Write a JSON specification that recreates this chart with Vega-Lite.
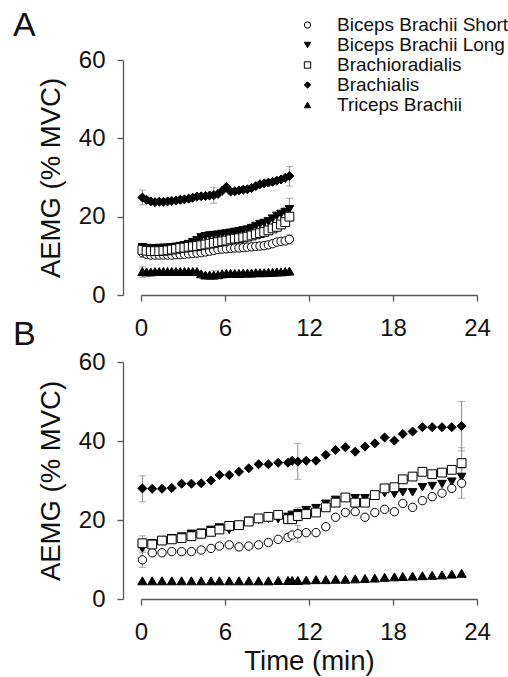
{
"$schema":"https://vega.github.io/schema/vega-lite/v6.json",
"background":"white",
"autosize":{"type":"pad"},
"padding":{"left":13,"top":9,"right":5,"bottom":2},
"config":{"font":"Liberation Sans","view":{"stroke":null},
"axis":{"grid":false,"domainColor":"#555","tickColor":"#555","domainWidth":1.3,"tickWidth":1.3,"tickSize":6,"labelFlush":false,"labelFont":"Liberation Sans","labelFontSize":24,"labelColor":"#111","titleFont":"Liberation Sans","titleFontSize":27.5,"titleFontWeight":"normal","titleColor":"#111"},
"title":{"font":"Liberation Sans","fontSize":34,"fontWeight":"normal","color":"#111","anchor":"start","frame":"group","baseline":"alphabetic","dx":-128}},
"resolve":{"legend":{"shape":"independent","fill":"independent","stroke":"independent"}},
"datasets":{
"a":[
{"muscle":"Biceps Brachii Long","t":0.1,"v":12.2},{"muscle":"Biceps Brachii Long","t":0.4,"v":12.0},{"muscle":"Biceps Brachii Long","t":0.7,"v":11.9},{"muscle":"Biceps Brachii Long","t":1.0,"v":11.9},{"muscle":"Biceps Brachii Long","t":1.3,"v":12.0},{"muscle":"Biceps Brachii Long","t":1.6,"v":12.0},{"muscle":"Biceps Brachii Long","t":1.9,"v":12.1},{"muscle":"Biceps Brachii Long","t":2.2,"v":12.2},{"muscle":"Biceps Brachii Long","t":2.5,"v":12.3},{"muscle":"Biceps Brachii Long","t":2.8,"v":12.5},{"muscle":"Biceps Brachii Long","t":3.1,"v":12.7},{"muscle":"Biceps Brachii Long","t":3.4,"v":13.0},{"muscle":"Biceps Brachii Long","t":3.7,"v":13.5},{"muscle":"Biceps Brachii Long","t":4.0,"v":14.0},{"muscle":"Biceps Brachii Long","t":4.3,"v":14.7},{"muscle":"Biceps Brachii Long","t":4.6,"v":15.0},{"muscle":"Biceps Brachii Long","t":4.9,"v":15.2},{"muscle":"Biceps Brachii Long","t":5.2,"v":15.3},{"muscle":"Biceps Brachii Long","t":5.5,"v":15.4},{"muscle":"Biceps Brachii Long","t":5.8,"v":15.6},{"muscle":"Biceps Brachii Long","t":6.1,"v":15.7},{"muscle":"Biceps Brachii Long","t":6.4,"v":15.9},{"muscle":"Biceps Brachii Long","t":6.7,"v":16.1},{"muscle":"Biceps Brachii Long","t":7.0,"v":16.3},{"muscle":"Biceps Brachii Long","t":7.3,"v":16.5},{"muscle":"Biceps Brachii Long","t":7.6,"v":16.7},{"muscle":"Biceps Brachii Long","t":7.9,"v":17.1},{"muscle":"Biceps Brachii Long","t":8.2,"v":17.6},{"muscle":"Biceps Brachii Long","t":8.5,"v":18.1},{"muscle":"Biceps Brachii Long","t":8.8,"v":18.4},{"muscle":"Biceps Brachii Long","t":9.1,"v":18.8},{"muscle":"Biceps Brachii Long","t":9.4,"v":19.5},{"muscle":"Biceps Brachii Long","t":9.7,"v":20.2},{"muscle":"Biceps Brachii Long","t":10.0,"v":20.7},{"muscle":"Biceps Brachii Long","t":10.3,"v":21.2},{"muscle":"Biceps Brachii Long","t":10.6,"v":21.9},
{"muscle":"Biceps Brachii Short","t":0.1,"v":10.8},{"muscle":"Biceps Brachii Short","t":0.4,"v":10.4},{"muscle":"Biceps Brachii Short","t":0.7,"v":10.2},{"muscle":"Biceps Brachii Short","t":1.0,"v":10.2},{"muscle":"Biceps Brachii Short","t":1.3,"v":10.2},{"muscle":"Biceps Brachii Short","t":1.6,"v":10.2},{"muscle":"Biceps Brachii Short","t":1.9,"v":10.2},{"muscle":"Biceps Brachii Short","t":2.2,"v":10.2},{"muscle":"Biceps Brachii Short","t":2.5,"v":10.3},{"muscle":"Biceps Brachii Short","t":2.8,"v":10.3},{"muscle":"Biceps Brachii Short","t":3.1,"v":10.4},{"muscle":"Biceps Brachii Short","t":3.4,"v":10.5},{"muscle":"Biceps Brachii Short","t":3.7,"v":10.6},{"muscle":"Biceps Brachii Short","t":4.0,"v":10.7},{"muscle":"Biceps Brachii Short","t":4.3,"v":10.8},{"muscle":"Biceps Brachii Short","t":4.6,"v":11.0},{"muscle":"Biceps Brachii Short","t":4.9,"v":11.2},{"muscle":"Biceps Brachii Short","t":5.2,"v":11.4},{"muscle":"Biceps Brachii Short","t":5.5,"v":11.6},{"muscle":"Biceps Brachii Short","t":5.8,"v":11.7},{"muscle":"Biceps Brachii Short","t":6.1,"v":11.8},{"muscle":"Biceps Brachii Short","t":6.4,"v":11.9},{"muscle":"Biceps Brachii Short","t":6.7,"v":12.0},{"muscle":"Biceps Brachii Short","t":7.0,"v":12.0},{"muscle":"Biceps Brachii Short","t":7.3,"v":12.1},{"muscle":"Biceps Brachii Short","t":7.6,"v":12.2},{"muscle":"Biceps Brachii Short","t":7.9,"v":12.3},{"muscle":"Biceps Brachii Short","t":8.2,"v":12.4},{"muscle":"Biceps Brachii Short","t":8.5,"v":12.5},{"muscle":"Biceps Brachii Short","t":8.8,"v":12.6},{"muscle":"Biceps Brachii Short","t":9.1,"v":12.8},{"muscle":"Biceps Brachii Short","t":9.4,"v":13.1},{"muscle":"Biceps Brachii Short","t":9.7,"v":13.5},{"muscle":"Biceps Brachii Short","t":10.0,"v":13.7},{"muscle":"Biceps Brachii Short","t":10.3,"v":13.8},{"muscle":"Biceps Brachii Short","t":10.6,"v":14.2},
{"muscle":"Brachioradialis","t":0.1,"v":11.5},{"muscle":"Brachioradialis","t":0.4,"v":11.3},{"muscle":"Brachioradialis","t":0.7,"v":11.2},{"muscle":"Brachioradialis","t":1.0,"v":11.2},{"muscle":"Brachioradialis","t":1.3,"v":11.2},{"muscle":"Brachioradialis","t":1.6,"v":11.3},{"muscle":"Brachioradialis","t":1.9,"v":11.4},{"muscle":"Brachioradialis","t":2.2,"v":11.6},{"muscle":"Brachioradialis","t":2.5,"v":11.8},{"muscle":"Brachioradialis","t":2.8,"v":12.0},{"muscle":"Brachioradialis","t":3.1,"v":12.1},{"muscle":"Brachioradialis","t":3.4,"v":12.3},{"muscle":"Brachioradialis","t":3.7,"v":12.4},{"muscle":"Brachioradialis","t":4.0,"v":12.5},{"muscle":"Brachioradialis","t":4.3,"v":12.7},{"muscle":"Brachioradialis","t":4.6,"v":12.9},{"muscle":"Brachioradialis","t":4.9,"v":13.1},{"muscle":"Brachioradialis","t":5.2,"v":13.3},{"muscle":"Brachioradialis","t":5.5,"v":13.5},{"muscle":"Brachioradialis","t":5.8,"v":13.7},{"muscle":"Brachioradialis","t":6.1,"v":13.9},{"muscle":"Brachioradialis","t":6.4,"v":14.2},{"muscle":"Brachioradialis","t":6.7,"v":14.4},{"muscle":"Brachioradialis","t":7.0,"v":14.5},{"muscle":"Brachioradialis","t":7.3,"v":14.7},{"muscle":"Brachioradialis","t":7.6,"v":14.9},{"muscle":"Brachioradialis","t":7.9,"v":15.2},{"muscle":"Brachioradialis","t":8.2,"v":15.5},{"muscle":"Brachioradialis","t":8.5,"v":15.8},{"muscle":"Brachioradialis","t":8.8,"v":16.1},{"muscle":"Brachioradialis","t":9.1,"v":16.5},{"muscle":"Brachioradialis","t":9.4,"v":17.0},{"muscle":"Brachioradialis","t":9.7,"v":17.4},{"muscle":"Brachioradialis","t":10.0,"v":18.0},{"muscle":"Brachioradialis","t":10.3,"v":18.6},{"muscle":"Brachioradialis","t":10.6,"v":20.0},
{"muscle":"Brachialis","t":0.1,"v":24.9},{"muscle":"Brachialis","t":0.4,"v":24.3},{"muscle":"Brachialis","t":0.7,"v":23.9},{"muscle":"Brachialis","t":1.0,"v":23.7},{"muscle":"Brachialis","t":1.3,"v":23.8},{"muscle":"Brachialis","t":1.6,"v":23.8},{"muscle":"Brachialis","t":1.9,"v":23.9},{"muscle":"Brachialis","t":2.2,"v":24.0},{"muscle":"Brachialis","t":2.5,"v":24.1},{"muscle":"Brachialis","t":2.8,"v":24.3},{"muscle":"Brachialis","t":3.1,"v":24.4},{"muscle":"Brachialis","t":3.4,"v":24.6},{"muscle":"Brachialis","t":3.7,"v":24.8},{"muscle":"Brachialis","t":4.0,"v":25.1},{"muscle":"Brachialis","t":4.3,"v":25.2},{"muscle":"Brachialis","t":4.6,"v":25.3},{"muscle":"Brachialis","t":4.9,"v":25.4},{"muscle":"Brachialis","t":5.2,"v":25.5},{"muscle":"Brachialis","t":5.5,"v":25.8},{"muscle":"Brachialis","t":5.8,"v":26.6},{"muscle":"Brachialis","t":6.1,"v":27.6},{"muscle":"Brachialis","t":6.4,"v":26.4},{"muscle":"Brachialis","t":6.7,"v":26.5},{"muscle":"Brachialis","t":7.0,"v":26.7},{"muscle":"Brachialis","t":7.3,"v":26.9},{"muscle":"Brachialis","t":7.6,"v":27.0},{"muscle":"Brachialis","t":7.9,"v":27.3},{"muscle":"Brachialis","t":8.2,"v":27.8},{"muscle":"Brachialis","t":8.5,"v":28.3},{"muscle":"Brachialis","t":8.8,"v":28.5},{"muscle":"Brachialis","t":9.1,"v":28.7},{"muscle":"Brachialis","t":9.4,"v":28.9},{"muscle":"Brachialis","t":9.7,"v":29.2},{"muscle":"Brachialis","t":10.0,"v":29.5},{"muscle":"Brachialis","t":10.3,"v":29.9},{"muscle":"Brachialis","t":10.6,"v":30.4},
{"muscle":"Triceps Brachii","t":0.1,"v":6.0},{"muscle":"Triceps Brachii","t":0.4,"v":5.9},{"muscle":"Triceps Brachii","t":0.7,"v":5.9},{"muscle":"Triceps Brachii","t":1.0,"v":6.0},{"muscle":"Triceps Brachii","t":1.3,"v":6.0},{"muscle":"Triceps Brachii","t":1.6,"v":6.0},{"muscle":"Triceps Brachii","t":1.9,"v":6.0},{"muscle":"Triceps Brachii","t":2.2,"v":6.0},{"muscle":"Triceps Brachii","t":2.5,"v":6.0},{"muscle":"Triceps Brachii","t":2.8,"v":6.0},{"muscle":"Triceps Brachii","t":3.1,"v":6.0},{"muscle":"Triceps Brachii","t":3.4,"v":6.0},{"muscle":"Triceps Brachii","t":3.7,"v":6.0},{"muscle":"Triceps Brachii","t":4.0,"v":6.0},{"muscle":"Triceps Brachii","t":4.3,"v":5.4},{"muscle":"Triceps Brachii","t":4.6,"v":5.1},{"muscle":"Triceps Brachii","t":4.9,"v":5.1},{"muscle":"Triceps Brachii","t":5.2,"v":5.1},{"muscle":"Triceps Brachii","t":5.5,"v":5.2},{"muscle":"Triceps Brachii","t":5.8,"v":5.4},{"muscle":"Triceps Brachii","t":6.1,"v":5.5},{"muscle":"Triceps Brachii","t":6.4,"v":5.5},{"muscle":"Triceps Brachii","t":6.7,"v":5.5},{"muscle":"Triceps Brachii","t":7.0,"v":5.5},{"muscle":"Triceps Brachii","t":7.3,"v":5.6},{"muscle":"Triceps Brachii","t":7.6,"v":5.6},{"muscle":"Triceps Brachii","t":7.9,"v":5.6},{"muscle":"Triceps Brachii","t":8.2,"v":5.7},{"muscle":"Triceps Brachii","t":8.5,"v":5.7},{"muscle":"Triceps Brachii","t":8.8,"v":5.7},{"muscle":"Triceps Brachii","t":9.1,"v":5.8},{"muscle":"Triceps Brachii","t":9.4,"v":5.8},{"muscle":"Triceps Brachii","t":9.7,"v":5.9},{"muscle":"Triceps Brachii","t":10.0,"v":5.9},{"muscle":"Triceps Brachii","t":10.3,"v":6.0},{"muscle":"Triceps Brachii","t":10.6,"v":6.1}
],
"aerr":[
{"muscle":"Brachialis","t":0.1,"lo":23.0,"hi":26.8},{"muscle":"Brachialis","t":5.2,"lo":23.4,"hi":27.4},{"muscle":"Brachialis","t":10.6,"lo":27.8,"hi":32.8},
{"muscle":"Biceps Brachii Long","t":10.6,"lo":19.1,"hi":24.7},{"muscle":"Biceps Brachii Long","t":5.2,"lo":12.0,"hi":15.5},
{"muscle":"Biceps Brachii Short","t":10.6,"lo":13.0,"hi":15.4},{"muscle":"Biceps Brachii Short","t":0.1,"lo":9.6,"hi":12.2},
{"muscle":"Triceps Brachii","t":0.1,"lo":4.5,"hi":7.2},{"muscle":"Triceps Brachii","t":5.2,"lo":4.0,"hi":6.2}
],
"b":[
{"muscle":"Biceps Brachii Long","t":0.1,"v":12.8},{"muscle":"Biceps Brachii Long","t":0.8,"v":14.1},{"muscle":"Biceps Brachii Long","t":1.5,"v":14.8},{"muscle":"Biceps Brachii Long","t":2.2,"v":15.4},{"muscle":"Biceps Brachii Long","t":2.9,"v":15.8},{"muscle":"Biceps Brachii Long","t":3.6,"v":16.5},{"muscle":"Biceps Brachii Long","t":4.3,"v":16.8},{"muscle":"Biceps Brachii Long","t":5.0,"v":17.5},{"muscle":"Biceps Brachii Long","t":5.6,"v":18.1},{"muscle":"Biceps Brachii Long","t":6.3,"v":17.5},{"muscle":"Biceps Brachii Long","t":7.0,"v":18.7},{"muscle":"Biceps Brachii Long","t":7.7,"v":19.8},{"muscle":"Biceps Brachii Long","t":8.4,"v":20.0},{"muscle":"Biceps Brachii Long","t":9.1,"v":20.2},{"muscle":"Biceps Brachii Long","t":9.8,"v":20.2},{"muscle":"Biceps Brachii Long","t":10.5,"v":20.8},{"muscle":"Biceps Brachii Long","t":10.8,"v":21.3},{"muscle":"Biceps Brachii Long","t":11.2,"v":21.7},{"muscle":"Biceps Brachii Long","t":11.8,"v":22.5},{"muscle":"Biceps Brachii Long","t":12.5,"v":23.0},{"muscle":"Biceps Brachii Long","t":13.2,"v":24.1},{"muscle":"Biceps Brachii Long","t":13.9,"v":25.1},{"muscle":"Biceps Brachii Long","t":14.6,"v":25.5},{"muscle":"Biceps Brachii Long","t":15.3,"v":25.5},{"muscle":"Biceps Brachii Long","t":16.0,"v":25.5},{"muscle":"Biceps Brachii Long","t":16.7,"v":26.3},{"muscle":"Biceps Brachii Long","t":17.4,"v":26.8},{"muscle":"Biceps Brachii Long","t":18.1,"v":26.6},{"muscle":"Biceps Brachii Long","t":18.7,"v":27.0},{"muscle":"Biceps Brachii Long","t":19.4,"v":27.0},{"muscle":"Biceps Brachii Long","t":20.1,"v":28.3},{"muscle":"Biceps Brachii Long","t":20.8,"v":28.6},{"muscle":"Biceps Brachii Long","t":21.5,"v":29.1},{"muscle":"Biceps Brachii Long","t":22.2,"v":29.7},{"muscle":"Biceps Brachii Long","t":22.9,"v":30.9},
{"muscle":"Biceps Brachii Short","t":0.1,"v":9.9},{"muscle":"Biceps Brachii Short","t":0.8,"v":11.7},{"muscle":"Biceps Brachii Short","t":1.5,"v":11.7},{"muscle":"Biceps Brachii Short","t":2.2,"v":12.0},{"muscle":"Biceps Brachii Short","t":2.9,"v":12.0},{"muscle":"Biceps Brachii Short","t":3.6,"v":12.0},{"muscle":"Biceps Brachii Short","t":4.3,"v":12.4},{"muscle":"Biceps Brachii Short","t":5.0,"v":12.8},{"muscle":"Biceps Brachii Short","t":5.6,"v":13.4},{"muscle":"Biceps Brachii Short","t":6.3,"v":13.7},{"muscle":"Biceps Brachii Short","t":7.0,"v":13.2},{"muscle":"Biceps Brachii Short","t":7.7,"v":13.4},{"muscle":"Biceps Brachii Short","t":8.4,"v":13.7},{"muscle":"Biceps Brachii Short","t":9.1,"v":14.3},{"muscle":"Biceps Brachii Short","t":9.8,"v":15.1},{"muscle":"Biceps Brachii Short","t":10.5,"v":15.6},{"muscle":"Biceps Brachii Short","t":10.8,"v":16.2},{"muscle":"Biceps Brachii Short","t":11.2,"v":16.5},{"muscle":"Biceps Brachii Short","t":11.8,"v":16.8},{"muscle":"Biceps Brachii Short","t":12.5,"v":16.8},{"muscle":"Biceps Brachii Short","t":13.2,"v":18.3},{"muscle":"Biceps Brachii Short","t":13.9,"v":20.7},{"muscle":"Biceps Brachii Short","t":14.6,"v":21.9},{"muscle":"Biceps Brachii Short","t":15.3,"v":22.1},{"muscle":"Biceps Brachii Short","t":16.0,"v":20.7},{"muscle":"Biceps Brachii Short","t":16.7,"v":21.9},{"muscle":"Biceps Brachii Short","t":17.4,"v":22.7},{"muscle":"Biceps Brachii Short","t":18.1,"v":22.1},{"muscle":"Biceps Brachii Short","t":18.7,"v":24.2},{"muscle":"Biceps Brachii Short","t":19.4,"v":23.2},{"muscle":"Biceps Brachii Short","t":20.1,"v":24.9},{"muscle":"Biceps Brachii Short","t":20.8,"v":25.9},{"muscle":"Biceps Brachii Short","t":21.5,"v":26.8},{"muscle":"Biceps Brachii Short","t":22.2,"v":28.0},{"muscle":"Biceps Brachii Short","t":22.9,"v":29.3},
{"muscle":"Brachioradialis","t":0.1,"v":14.1},{"muscle":"Brachioradialis","t":0.8,"v":13.8},{"muscle":"Brachioradialis","t":1.5,"v":14.8},{"muscle":"Brachioradialis","t":2.2,"v":15.1},{"muscle":"Brachioradialis","t":2.9,"v":15.4},{"muscle":"Brachioradialis","t":3.6,"v":15.9},{"muscle":"Brachioradialis","t":4.3,"v":16.5},{"muscle":"Brachioradialis","t":5.0,"v":17.0},{"muscle":"Brachioradialis","t":5.6,"v":17.6},{"muscle":"Brachioradialis","t":6.3,"v":18.5},{"muscle":"Brachioradialis","t":7.0,"v":18.7},{"muscle":"Brachioradialis","t":7.7,"v":19.6},{"muscle":"Brachioradialis","t":8.4,"v":20.4},{"muscle":"Brachioradialis","t":9.1,"v":20.8},{"muscle":"Brachioradialis","t":9.8,"v":21.3},{"muscle":"Brachioradialis","t":10.5,"v":20.2},{"muscle":"Brachioradialis","t":10.8,"v":20.2},{"muscle":"Brachioradialis","t":11.2,"v":21.0},{"muscle":"Brachioradialis","t":11.8,"v":21.5},{"muscle":"Brachioradialis","t":12.5,"v":21.9},{"muscle":"Brachioradialis","t":13.2,"v":23.2},{"muscle":"Brachioradialis","t":13.9,"v":24.4},{"muscle":"Brachioradialis","t":14.6,"v":25.7},{"muscle":"Brachioradialis","t":15.3,"v":24.4},{"muscle":"Brachioradialis","t":16.0,"v":24.4},{"muscle":"Brachioradialis","t":16.7,"v":26.3},{"muscle":"Brachioradialis","t":17.4,"v":28.0},{"muscle":"Brachioradialis","t":18.1,"v":28.3},{"muscle":"Brachioradialis","t":18.7,"v":30.3},{"muscle":"Brachioradialis","t":19.4,"v":31.0},{"muscle":"Brachioradialis","t":20.1,"v":32.2},{"muscle":"Brachioradialis","t":20.8,"v":31.6},{"muscle":"Brachioradialis","t":21.5,"v":32.0},{"muscle":"Brachioradialis","t":22.2,"v":32.7},{"muscle":"Brachioradialis","t":22.9,"v":34.4},
{"muscle":"Brachialis","t":0.1,"v":28.0},{"muscle":"Brachialis","t":0.8,"v":27.9},{"muscle":"Brachialis","t":1.5,"v":27.9},{"muscle":"Brachialis","t":2.2,"v":28.1},{"muscle":"Brachialis","t":2.9,"v":29.2},{"muscle":"Brachialis","t":3.6,"v":29.2},{"muscle":"Brachialis","t":4.3,"v":29.3},{"muscle":"Brachialis","t":5.0,"v":30.0},{"muscle":"Brachialis","t":5.6,"v":31.4},{"muscle":"Brachialis","t":6.3,"v":31.4},{"muscle":"Brachialis","t":7.0,"v":32.2},{"muscle":"Brachialis","t":7.7,"v":33.1},{"muscle":"Brachialis","t":8.4,"v":34.1},{"muscle":"Brachialis","t":9.1,"v":34.1},{"muscle":"Brachialis","t":9.8,"v":34.5},{"muscle":"Brachialis","t":10.5,"v":34.5},{"muscle":"Brachialis","t":10.8,"v":35.0},{"muscle":"Brachialis","t":11.2,"v":34.8},{"muscle":"Brachialis","t":11.8,"v":35.0},{"muscle":"Brachialis","t":12.5,"v":35.0},{"muscle":"Brachialis","t":13.2,"v":36.5},{"muscle":"Brachialis","t":13.9,"v":37.7},{"muscle":"Brachialis","t":14.6,"v":38.4},{"muscle":"Brachialis","t":15.3,"v":37.3},{"muscle":"Brachialis","t":16.0,"v":38.6},{"muscle":"Brachialis","t":16.7,"v":39.4},{"muscle":"Brachialis","t":17.4,"v":40.9},{"muscle":"Brachialis","t":18.1,"v":40.1},{"muscle":"Brachialis","t":18.7,"v":41.8},{"muscle":"Brachialis","t":19.4,"v":42.4},{"muscle":"Brachialis","t":20.1,"v":43.5},{"muscle":"Brachialis","t":20.8,"v":43.5},{"muscle":"Brachialis","t":21.5,"v":43.5},{"muscle":"Brachialis","t":22.2,"v":43.5},{"muscle":"Brachialis","t":22.9,"v":43.8},
{"muscle":"Triceps Brachii","t":0.1,"v":4.6},{"muscle":"Triceps Brachii","t":0.8,"v":4.6},{"muscle":"Triceps Brachii","t":1.5,"v":4.6},{"muscle":"Triceps Brachii","t":2.2,"v":4.6},{"muscle":"Triceps Brachii","t":2.9,"v":4.6},{"muscle":"Triceps Brachii","t":3.6,"v":4.6},{"muscle":"Triceps Brachii","t":4.3,"v":4.6},{"muscle":"Triceps Brachii","t":5.0,"v":4.6},{"muscle":"Triceps Brachii","t":5.6,"v":4.6},{"muscle":"Triceps Brachii","t":6.3,"v":4.6},{"muscle":"Triceps Brachii","t":7.0,"v":4.6},{"muscle":"Triceps Brachii","t":7.7,"v":4.6},{"muscle":"Triceps Brachii","t":8.4,"v":4.6},{"muscle":"Triceps Brachii","t":9.1,"v":4.6},{"muscle":"Triceps Brachii","t":9.8,"v":4.7},{"muscle":"Triceps Brachii","t":10.5,"v":4.7},{"muscle":"Triceps Brachii","t":10.8,"v":4.7},{"muscle":"Triceps Brachii","t":11.2,"v":4.7},{"muscle":"Triceps Brachii","t":11.8,"v":4.8},{"muscle":"Triceps Brachii","t":12.5,"v":4.9},{"muscle":"Triceps Brachii","t":13.2,"v":4.9},{"muscle":"Triceps Brachii","t":13.9,"v":5.0},{"muscle":"Triceps Brachii","t":14.6,"v":5.0},{"muscle":"Triceps Brachii","t":15.3,"v":5.1},{"muscle":"Triceps Brachii","t":16.0,"v":5.2},{"muscle":"Triceps Brachii","t":16.7,"v":5.3},{"muscle":"Triceps Brachii","t":17.4,"v":5.5},{"muscle":"Triceps Brachii","t":18.1,"v":5.6},{"muscle":"Triceps Brachii","t":18.7,"v":5.7},{"muscle":"Triceps Brachii","t":19.4,"v":5.8},{"muscle":"Triceps Brachii","t":20.1,"v":5.9},{"muscle":"Triceps Brachii","t":20.8,"v":6.0},{"muscle":"Triceps Brachii","t":21.5,"v":6.1},{"muscle":"Triceps Brachii","t":22.2,"v":6.3},{"muscle":"Triceps Brachii","t":22.9,"v":6.5}
],
"berr":[
{"muscle":"Brachialis","t":0.1,"lo":24.6,"hi":31.2},{"muscle":"Brachialis","t":11.2,"lo":30.3,"hi":39.4},{"muscle":"Brachialis","t":22.9,"lo":37.5,"hi":50.0},
{"muscle":"Brachioradialis","t":22.9,"lo":30.4,"hi":38.3},{"muscle":"Biceps Brachii Short","t":22.9,"lo":25.5,"hi":33.0},
{"muscle":"Brachioradialis","t":0.1,"lo":12.2,"hi":16.0},{"muscle":"Biceps Brachii Short","t":0.1,"lo":8.0,"hi":11.8},
{"muscle":"Biceps Brachii Short","t":11.2,"lo":14.4,"hi":18.6},{"muscle":"Biceps Brachii Long","t":11.2,"lo":19.8,"hi":23.1}
]
},
"bounds":"flush",
"spacing":67,
"vconcat":[
{"width":336,"height":235,
 "title":{"text":"A","offset":-27.5},
 "layer":[
  {"data":{"name":"aerr"},"mark":{"type":"errorbar","ticks":{"size":7},"color":"#8a8a8a","thickness":1},
   "encoding":{"x":{"field":"t","type":"quantitative","scale":{"domain":[0,24],"nice":false},"axis":{"values":[0,6,12,18,24],"labelPadding":15,"title":null}},
   "y":{"field":"lo","type":"quantitative","scale":{"domain":[0,60],"nice":false},"axis":{"values":[0,20,40,60],"offset":18,"labelPadding":12,"titlePadding":13,"title":"AEMG (% MVC)"}},"y2":{"field":"hi"}}},
  {"data":{"name":"a"},"mark":{"type":"point","strokeWidth":1,"opacity":1,"fillOpacity":1},
   "encoding":{"x":{"field":"t","type":"quantitative","title":null},"y":{"field":"v","type":"quantitative","title":"AEMG (% MVC)"},
   "shape":{"field":"muscle","type":"nominal","scale":{"domain":["Biceps Brachii Short","Biceps Brachii Long","Brachioradialis","Brachialis","Triceps Brachii"],"range":["circle","triangle-down","square","diamond","triangle-up"]},"legend":{"title":null,"orient":"none","legendX":157,"legendY":-44.5,"padding":0,"labelFont":"Liberation Sans","labelFontSize":19,"labelLimit":0,"labelColor":"#111","labelOffset":20,"rowPadding":-0.75,"symbolSize":40,"symbolStrokeWidth":1}},
   "fill":{"field":"muscle","type":"nominal","scale":{"domain":["Biceps Brachii Short","Biceps Brachii Long","Brachioradialis","Brachialis","Triceps Brachii"],"range":["white","black","white","black","black"]},"legend":{"title":null,"orient":"none","legendX":157,"legendY":-44.5,"padding":0,"labelFont":"Liberation Sans","labelFontSize":19,"labelLimit":0,"labelColor":"#111","labelOffset":20,"rowPadding":-0.75,"symbolSize":40,"symbolStrokeWidth":1}},
   "stroke":{"field":"muscle","type":"nominal","scale":{"domain":["Biceps Brachii Short","Biceps Brachii Long","Brachioradialis","Brachialis","Triceps Brachii"],"range":["black","black","black","black","black"]},"legend":{"title":null,"orient":"none","legendX":157,"legendY":-44.5,"padding":0,"labelFont":"Liberation Sans","labelFontSize":19,"labelLimit":0,"labelColor":"#111","labelOffset":20,"rowPadding":-0.75,"symbolSize":40,"symbolStrokeWidth":1}},
   "size":{"field":"muscle","type":"nominal","scale":{"domain":["Biceps Brachii Short","Biceps Brachii Long","Brachioradialis","Brachialis","Triceps Brachii"],"range":[70,85,65,130,85]},"legend":null}}}
 ]},
{"width":336,"height":237,
 "title":{"text":"B","offset":-1.5},
 "layer":[
  {"data":{"name":"berr"},"mark":{"type":"errorbar","ticks":{"size":7},"color":"#8a8a8a","thickness":1},
   "encoding":{"x":{"field":"t","type":"quantitative","scale":{"domain":[0,24],"nice":false},"axis":{"values":[0,6,12,18,24],"labelPadding":15,"titlePadding":3,"title":"Time (min)"}},
   "y":{"field":"lo","type":"quantitative","scale":{"domain":[0,60],"nice":false},"axis":{"values":[0,20,40,60],"offset":18,"labelPadding":12,"titlePadding":13,"title":"AEMG (% MVC)"}},"y2":{"field":"hi"}}},
  {"data":{"name":"b"},"mark":{"type":"point","strokeWidth":1,"opacity":1,"fillOpacity":1},
   "encoding":{"x":{"field":"t","type":"quantitative","title":"Time (min)"},"y":{"field":"v","type":"quantitative","title":"AEMG (% MVC)"},
   "shape":{"field":"muscle","type":"nominal","legend":null},
   "fill":{"field":"muscle","type":"nominal","legend":null},
   "stroke":{"field":"muscle","type":"nominal","legend":null},
   "size":{"field":"muscle","type":"nominal","legend":null}}}
 ]}
]
}
